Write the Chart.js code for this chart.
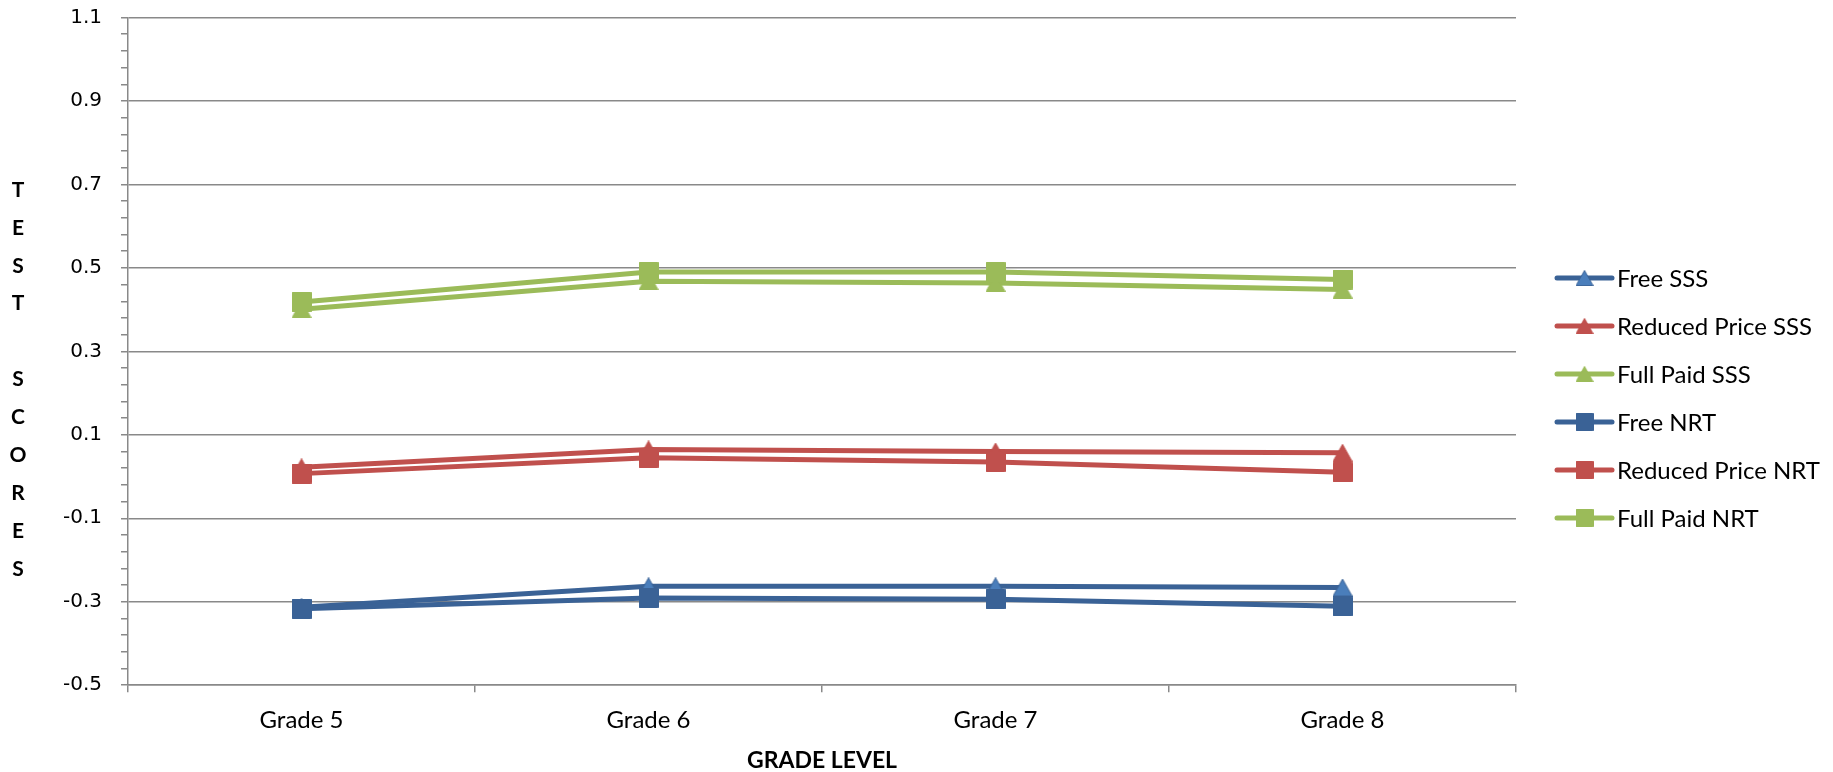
<!DOCTYPE html>
<html>
<head>
<meta charset="utf-8">
<script src="https://cdn.jsdelivr.net/npm/chart.js@4.4.0/dist/chart.umd.min.js"></script>
<style>
  html, body { margin: 0; padding: 0; background: #fff; }
  #wrap { width: 1833px; height: 772px; position: relative; }
</style>
</head>
<body>
<div id="wrap"><canvas id="chart"></canvas></div>
<script>
const grades = ['Grade 5', 'Grade 6', 'Grade 7', 'Grade 8'];

const freeSSS = [-0.313, -0.263, -0.263, -0.266];
const reducedSSS = [0.022, 0.065, 0.060, 0.057];
const fullSSS = [0.401, 0.468, 0.464, 0.448];
const freeNRT = [-0.317, -0.291, -0.294, -0.311];
const reducedNRT = [0.007, 0.045, 0.035, 0.010];
const fullNRT = [0.418, 0.490, 0.490, 0.472];

const yTickLabels = ['-0.5', '-0.3', '-0.1', '0.1', '0.3', '0.5', '0.7', '0.9', '1.1'];
const yTitle = 'TEST SCORES';
const xTitle = 'GRADE LEVEL';

const BLUE = '#3A6296', RED = '#C0504D', GREEN = '#9BBB59';
const GRID = '#898989';

// small canvas images used as point markers (and in the legend)
const makeMarker = (shape, fill, stroke) => {
    const c = document.createElement('canvas');
    const w = 20, h = shape === 'triangle' ? 18 : 20;
    c.width = w;
    c.height = h;
    const g = c.getContext('2d');
    g.fillStyle = fill;
    g.strokeStyle = stroke;
    g.lineWidth = 1;
    g.beginPath();
    if (shape === 'triangle') {
        g.moveTo(w / 2, 0.5);
        g.lineTo(w - 0.5, h - 0.5);
        g.lineTo(0.5, h - 0.5);
        g.closePath();
    } else {
        g.rect(0.5, 0.5, w - 1, h - 1);
    }
    g.fill();
    g.stroke();
    return c;
};

const isMajor = (v) => {
    const s = v.toFixed(1);
    return yTickLabels.includes(s) && Math.abs(v - parseFloat(s)) < 1e-6;
};

const makeSeries = (label, data, color, marker, order) => ({
    label: label,
    data: data,
    borderColor: color,
    backgroundColor: color,
    borderWidth: 5,
    borderCapStyle: 'round',
    borderJoinStyle: 'round',
    tension: 0,
    fill: false,
    pointStyle: marker,
    pointRadius: 10,
    pointHoverRadius: 10,
    order: order
});

const sideLegend = {
    id: 'sideLegend',
    afterDraw(chart) {
        const { ctx, chartArea } = chart;
        ctx.save();
        chart.data.datasets.forEach((ds, i) => {
            const y = 278 + i * 48;
            const x0 = chartArea.right + 41;
            ctx.strokeStyle = ds.borderColor;
            ctx.lineWidth = 5;
            ctx.lineCap = 'round';
            ctx.beginPath();
            ctx.moveTo(x0, y);
            ctx.lineTo(x0 + 55, y);
            ctx.stroke();
            const img = ds.pointStyle;
            ctx.drawImage(img, x0 + 27.5 - img.width * 0.45, y - img.height * 0.45, img.width * 0.9, img.height * 0.9);
            ctx.fillStyle = '#000';
            ctx.font = '24px Lato';
            ctx.textBaseline = 'middle';
            ctx.textAlign = 'left';
            ctx.fillText(ds.label, x0 + 60, y + 1);
        });
        ctx.restore();
    }
};

// stacked vertical letters for the y axis title
const stackedTitle = {
    id: 'stackedTitle',
    afterDraw(chart) {
        const ctx = chart.ctx;
        ctx.save();
        ctx.fillStyle = '#000';
        ctx.font = 'bold 21px Lato';
        ctx.textAlign = 'center';
        ctx.textBaseline = 'middle';
        yTitle.split('').forEach((ch, i) => {
            ctx.fillText(ch, 18, 190 + i * 37.9);
        });
        ctx.restore();
    }
};

const buildChart = () => {
    new Chart(document.getElementById('chart'), {
        type: 'line',
        data: {
            labels: grades,
            datasets: [
                makeSeries('Free SSS', freeSSS, BLUE, makeMarker('triangle', '#4A7EBB', BLUE), 5),
                makeSeries('Reduced Price SSS', reducedSSS, RED, makeMarker('triangle', RED, RED), 4),
                makeSeries('Full Paid SSS', fullSSS, GREEN, makeMarker('triangle', GREEN, GREEN), 3),
                makeSeries('Free NRT', freeNRT, BLUE, makeMarker('rect', BLUE, BLUE), 2),
                makeSeries('Reduced Price NRT', reducedNRT, RED, makeMarker('rect', RED, RED), 1),
                makeSeries('Full Paid NRT', fullNRT, GREEN, makeMarker('rect', GREEN, GREEN), 0)
            ]
        },
        options: {
            responsive: true,
            maintainAspectRatio: false,
            animation: false,
            layout: { padding: { left: 44, right: 317, top: 17.5, bottom: 0 } },
            plugins: {
                legend: { display: false },
                tooltip: { enabled: false }
            },
            scales: {
                x: {
                    offset: true,
                    grid: {
                        offset: true,
                        color: 'rgba(0,0,0,0)',
                        tickColor: GRID,
                        tickLength: 7,
                        lineWidth: 1.5
                    },
                    border: { color: GRID, width: 1.5 },
                    ticks: {
                        color: '#000',
                        font: { family: 'Lato', size: 24 },
                        padding: 14,
                        maxRotation: 0
                    },
                    title: {
                        display: true,
                        text: xTitle,
                        color: '#000',
                        font: { family: 'Lato', size: 23, weight: 'bold', lineHeight: 1 },
                        padding: { top: 0, bottom: 0 }
                    }
                },
                y: {
                    min: -0.5,
                    max: 1.1,
                    // let the layout padding alone decide where the plot area starts
                    afterFit: (scale) => {
                        scale.paddingTop = 0;
                        scale.paddingBottom = 0;
                    },
                    grid: {
                        color: (c) => (c.tick && isMajor(c.tick.value)) ? GRID : 'rgba(0,0,0,0)',
                        tickColor: GRID,
                        tickLength: 7,
                        lineWidth: 1.5
                    },
                    border: { color: GRID, width: 1.5 },
                    ticks: {
                        stepSize: 0.04,
                        autoSkip: false,
                        color: '#000',
                        padding: 19,
                        font: { family: 'DejaVu Sans', size: 20 },
                        callback: (v) => isMajor(v) ? v.toFixed(1) : ''
                    }
                }
            }
        },
        plugins: [sideLegend, stackedTitle]
    });
};

Promise.all([
    document.fonts.load('24px Lato'),
    document.fonts.load('bold 23px Lato'),
    document.fonts.load('20px "DejaVu Sans"')
]).then(buildChart, buildChart);
</script>
</body>
</html>
